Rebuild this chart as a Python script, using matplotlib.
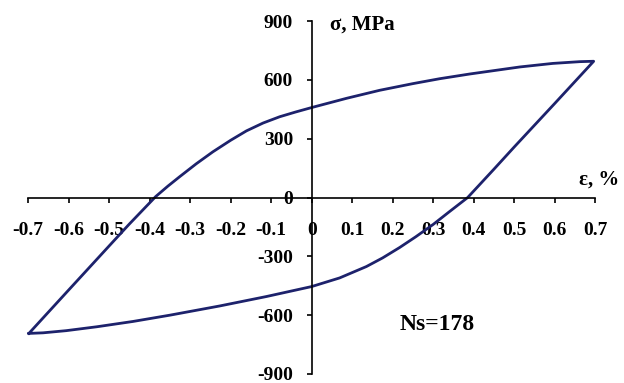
import numpy as np
import matplotlib
matplotlib.use("Agg")
import matplotlib.pyplot as plt


# ******************************************************************
# loop: strain in %, stress in MPa

upper_strain = [-0.698, -0.60, -0.50, -0.45, -0.385, -0.355, -0.326, -0.285, -0.244,
                -0.20, -0.161, -0.12, -0.079, -0.04, 0.0, 0.086, 0.168, 0.250,
                0.316, 0.39, 0.514, 0.595, 0.662, 0.696]
upper_stress = [-693, -472, -247, -135, 5, 58, 106, 172, 233,
                292, 340, 380, 412, 436, 459, 506, 547, 581,
                606, 630, 666, 684, 693, 695]

lower_strain = [0.696, 0.60, 0.50, 0.45, 0.385, 0.34, 0.30, 0.257, 0.217, 0.175,
                0.135, 0.069, 0.0, -0.112, -0.227, -0.35, -0.441, -0.53, -0.606,
                -0.663, -0.698]
lower_stress = [695, 480, 258, 145, 0, -72, -137, -200, -255, -308,
                -352, -410, -454, -505, -553, -600, -632, -659, -679,
                -690, -693]

x_ticks = [-0.7, -0.6, -0.5, -0.4, -0.3, -0.2, -0.1, 0, 0.1, 0.2, 0.3, 0.4, 0.5, 0.6, 0.7]
x_labels = ["-0.7", "-0.6", "-0.5", "-0.4", "-0.3", "-0.2", "-0.1", "0",
            "0.1", "0.2", "0.3", "0.4", "0.5", "0.6", "0.7"]
y_ticks = [-900, -600, -300, 0, 300, 600, 900]
y_labels = ["-900", "-600", "-300", "0", "300", "600", "900"]

# ******************************************************************

plt.rcParams['font.family'] = ['Liberation Serif', 'DejaVu Serif']
plt.rcParams['font.weight'] = 'bold'

lineColor = '#1d226c'

fig = plt.figure(figsize=(6.24, 3.83), dpi=100)
ax = fig.add_axes([0.045, 0.0235, 0.909, 0.9215])

ax.plot(upper_strain + lower_strain[1:], upper_stress + lower_stress[1:],
        color=lineColor, lw=2.0, solid_joinstyle='round', clip_on=False)

ax.set_xlim(-0.7, 0.7)
ax.set_ylim(-900, 900)

ax.spines['left'].set_position(('data', 0))
ax.spines['bottom'].set_position(('data', 0))
ax.spines['top'].set_visible(False)
ax.spines['right'].set_visible(False)
for s in ['left', 'bottom']:
    ax.spines[s].set_linewidth(1.2)
    ax.spines[s].set_color('black')

ax.set_xticks(x_ticks)
ax.set_xticklabels(x_labels)
ax.set_yticks(y_ticks)
ax.set_yticklabels(y_labels)
ax.tick_params(axis='x', direction='out', length=3.5, width=1.2, pad=14, labelsize=14)
ax.tick_params(axis='y', direction='out', length=3.5, width=1.2, pad=10, labelsize=14)
for lbl in ax.get_xticklabels() + ax.get_yticklabels():
    lbl.set_fontweight('bold')

ax.text(0.044, 880, "σ, MPa", fontsize=15, fontweight='bold', ha='left', va='center')
ax.text(0.66, 92, "ε, %", fontsize=15, fontweight='bold', ha='left', va='center',
        clip_on=False)
ax.text(0.309, -646, "Ns=178", fontsize=17, fontweight='bold', ha='center', va='center')

fig.savefig("out.png", dpi=100)
